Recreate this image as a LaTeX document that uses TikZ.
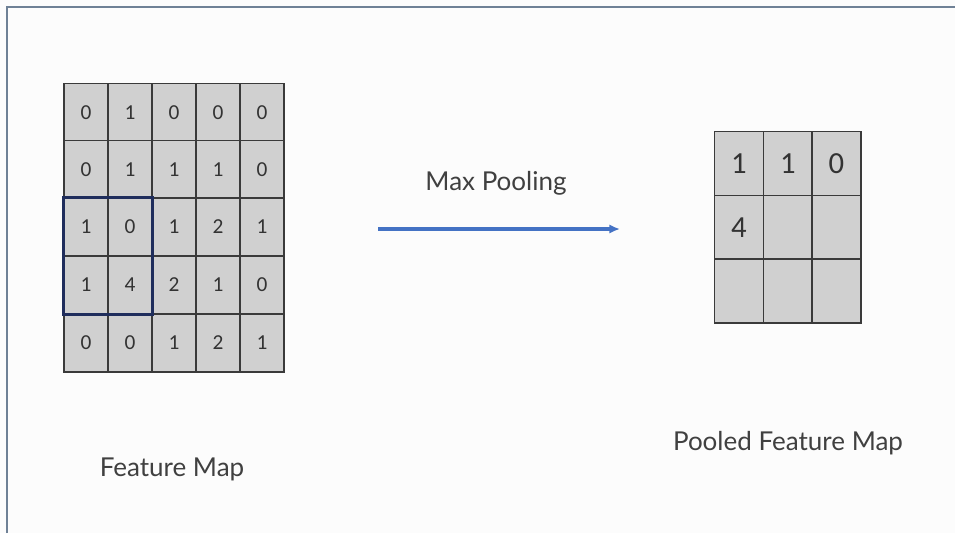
\documentclass[tikz,border=0pt]{standalone}
\usepackage{fontspec}
\setmainfont{Lato}
\newfontfamily\cellfont{Carlito}
\usetikzlibrary{positioning,arrows.meta}

\definecolor{cellgray}{HTML}{D0D0D0}
\definecolor{gridline}{HTML}{3A3A3A}
\definecolor{poolnavy}{HTML}{1F2D5C}
\definecolor{arrowblue}{HTML}{4472C4}
\definecolor{framegray}{HTML}{6F8196}
\definecolor{pagebg}{HTML}{FCFCFC}

\begin{document}
\begin{tikzpicture}
		[x=0.75pt, y=-0.75pt,
		cell/.style ={rectangle, draw=gridline, line width=1.1pt, fill=cellgray, minimum width=33pt, minimum height=43.2pt, inner sep=0pt, font=\cellfont\fontsize{16}{16}\selectfont, text=black!80},
		pcell/.style ={cell, minimum width=36.75pt, minimum height=48pt, font=\cellfont\fontsize{23}{23}\selectfont},
		caption/.style ={font=\fontsize{19.5}{19.5}\selectfont, text=black!75},
		]

		% page and frame
		\fill[pagebg] (0,0) rectangle (955,533);
		\useasboundingbox (0,0) rectangle (955,533);
		\draw[framegray, line width=1.3pt] (7,533) -- (7,7) -- (955,7);

		% feature map
		\draw (86,112.5) node[cell] (f11) {0};
		\draw (130,112.5) node[cell] (f12) {1};
		\draw (174,112.5) node[cell] (f13) {0};
		\draw (218,112.5) node[cell] (f14) {0};
		\draw (262,112.5) node[cell] (f15) {0};
		\draw (86,169.5) node[cell] (f21) {0};
		\draw (130,169.5) node[cell] (f22) {1};
		\draw (174,169.5) node[cell] (f23) {1};
		\draw (218,169.5) node[cell] (f24) {1};
		\draw (262,169.5) node[cell] (f25) {0};
		\draw (86,227) node[cell] (f31) {1};
		\draw (130,227) node[cell] (f32) {0};
		\draw (174,227) node[cell] (f33) {1};
		\draw (218,227) node[cell] (f34) {2};
		\draw (262,227) node[cell] (f35) {1};
		\draw (86,285) node[cell] (f41) {1};
		\draw (130,285) node[cell] (f42) {4};
		\draw (174,285) node[cell] (f43) {2};
		\draw (218,285) node[cell] (f44) {1};
		\draw (262,285) node[cell] (f45) {0};
		\draw (86,343) node[cell] (f51) {0};
		\draw (130,343) node[cell] (f52) {0};
		\draw (174,343) node[cell] (f53) {1};
		\draw (218,343) node[cell] (f54) {2};
		\draw (262,343) node[cell] (f55) {1};

		% 2x2 window
		\draw[poolnavy, line width=2.2pt] (f31.north west) rectangle (f42.south east);

		% pooled map
		\draw (739,163.5) node[pcell] (p11) {1};
		\draw (788,163.5) node[pcell] (p12) {1};
		\draw (836.5,163.5) node[pcell] (p13) {0};
		\draw (739,227.5) node[pcell] (p21) {4};
		\draw (788,227.5) node[pcell] (p22) {};
		\draw (836.5,227.5) node[pcell] (p23) {};
		\draw (739,291) node[pcell] (p31) {};
		\draw (788,291) node[pcell] (p32) {};
		\draw (836.5,291) node[pcell] (p33) {};

		% labels
		\draw (172,469) node[caption] (fmap) {Feature Map};
		\draw (788,443) node[caption] (pmap) {Pooled Feature Map};
		\draw (496,183) node[caption] (pool) {Max Pooling};

		\coordinate (from) at (378,229);
		\coordinate (to) at (620,229);
		\path[-{Latex[length=8pt,width=7pt]}, arrowblue, line width=2.4pt]
		(from) edge node {} (to);

	\end{tikzpicture}
\end{document}
